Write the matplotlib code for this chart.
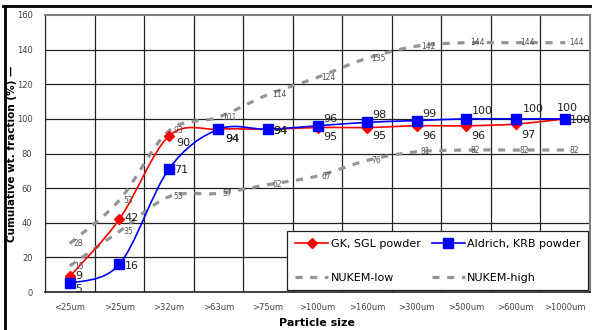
import numpy as np
import matplotlib
matplotlib.use("Agg")
import matplotlib.pyplot as plt
from matplotlib.path import Path
from matplotlib.patches import PathPatch
from matplotlib.lines import Line2D

# =========================================
# DATA
# =========================================
sizes = ['<25um', '>25um', '>32um', '>63um', '>75um', '>100um',
         '>160um', '>300um', '>500um', '>600um', '>1000um']
gk_sgl = [9, 42, 90, 94, 94, 95, 95, 96, 96, 97, 100]
aldrich_krb = [5, 16, 71, 94, 94, 96, 98, 99, 100, 100, 100]
nukem_low = [15, 35, 55, 57, 62, 67, 76, 81, 82, 82, 82]
nukem_high = [28, 53, 93, 101, 114, 124, 135, 142, 144, 144, 144]

# label offsets in points (dx, dy) for the two powders
gk_off = [(4, 0), (4, 1), (5, -5), (5, -7), (4, -1), (4, -7),
          (4, -6), (4, -7), (4, -7), (4, -8), (3, -1)]
al_off = [(4, -4), (4, -1), (4, -1), (5, -7), (4, -1), (4, 5),
          (4, 5), (4, 5), (4, 6), (5, 7), (-6, 8)]


def smooth_path(x, y):
    # excel-like smoothed line: cubic bezier between consecutive points
    pts = np.column_stack([x, y]).astype(float)
    n = len(pts)
    verts = [pts[0]]
    codes = [Path.MOVETO]
    for i in range(n - 1):
        p0 = pts[i - 1] if i > 0 else pts[i]
        p3 = pts[i + 2] if i + 2 < n else pts[i + 1]
        c1 = pts[i] + (pts[i + 1] - p0) / 6.0
        c2 = pts[i + 1] - (p3 - pts[i]) / 6.0
        verts += [c1, c2, pts[i + 1]]
        codes += [Path.CURVE4] * 3
    return Path(verts, codes)


x = np.arange(len(sizes))

fig = plt.figure(figsize=(5.92, 3.30), dpi=100)
ax = fig.add_axes([45 / 592, 1 - 292 / 330, 545 / 592, 277 / 330])

gray = '#959595'
dash = (0, (2.2, 2.4))
# NUKEM bands
for vals in (nukem_low, nukem_high):
    ax.add_patch(PathPatch(smooth_path(x, vals), fill=False, edgecolor=gray,
                           lw=2.3, linestyle=dash, zorder=3))
    for xi, v in zip(x, vals):
        ax.annotate(str(v), (xi, v), xytext=(3, 0), textcoords='offset points',
                    fontsize=5.5, color='#555555', va='center', ha='left', zorder=7)

# powders
ax.add_patch(PathPatch(smooth_path(x, gk_sgl), fill=False, edgecolor='red',
                       lw=1.2, zorder=5))
ax.plot(x, gk_sgl, linestyle='none', marker='D', ms=5, color='red', zorder=6)
ax.add_patch(PathPatch(smooth_path(x, aldrich_krb), fill=False, edgecolor='blue',
                       lw=1.2, zorder=5))
ax.plot(x, aldrich_krb, linestyle='none', marker='s', ms=6.5, color='blue', zorder=6)

for xi, v, o in zip(x, gk_sgl, gk_off):
    ax.annotate(str(v), (xi, v), xytext=o, textcoords='offset points',
                fontsize=8, color='#222222', va='center', ha='left', zorder=7)
for xi, v, o in zip(x, aldrich_krb, al_off):
    ax.annotate(str(v), (xi, v), xytext=o, textcoords='offset points',
                fontsize=8, color='#222222', va='center', ha='left', zorder=7)

# axes
ax.set_xlim(-0.5, len(sizes) - 0.5)
ax.set_ylim(0, 160)
ax.set_yticks(np.arange(0, 161, 20))
ax.set_xticks(x)
ax.set_xticklabels(sizes)
ax.tick_params(length=0, labelsize=6, labelcolor='#444444')
ax.tick_params(axis='y', pad=9)
ax.tick_params(axis='x', pad=8)
for v in np.arange(-0.5, len(sizes) - 0.5, 1.0):
    ax.axvline(v, color='#222222', lw=0.9, zorder=1)
for v in np.arange(20, 160, 20):
    ax.axhline(v, color='#222222', lw=0.9, zorder=1)
for s in ['top', 'right']:
    ax.spines[s].set_color('#808080')
    ax.spines[s].set_linewidth(1.5)
ax.spines['left'].set_color('#222222')
ax.spines['bottom'].set_color('#222222')
ax.spines['bottom'].set_linewidth(1.2)

# legend filled column-wise -> order gives rows (GK, Aldrich) / (low, high)
handles = [
    Line2D([], [], color='red', lw=1.2, marker='D', ms=5),
    Line2D([], [], color=gray, lw=2.3, linestyle=dash),
    Line2D([], [], color='blue', lw=1.2, marker='s', ms=6.5),
    Line2D([], [], color=gray, lw=2.3, linestyle=dash),
]
labels = ['GK, SGL powder', 'NUKEM-low', 'Aldrich, KRB powder', 'NUKEM-high']
leg = ax.legend(handles, labels, ncol=2, loc='lower right',
                bbox_to_anchor=(1.0, 0.0), fontsize=8, frameon=True,
                fancybox=False, edgecolor='#222222', framealpha=1,
                handlelength=3.0, handletextpad=0.2, columnspacing=1.0,
                labelspacing=2.1, borderpad=0.7, borderaxespad=0.15)
leg.get_frame().set_linewidth(0.9)
leg.set_zorder(10)

ax.set_ylabel('Cumulative wt. fraction (%) \u2014', fontsize=7.5, fontweight='bold')
ax.yaxis.set_label_coords(-0.052, 0.5)
fig.text(317 / 592, 1 - 323 / 330, 'Particle size', fontsize=8,
         fontweight='bold', ha='center', va='center')

# outer frame lines
fig.add_artist(Line2D([3 / 592, 1], [1 - 6 / 330, 1 - 6 / 330],
                      transform=fig.transFigure, color='black', lw=2))
fig.add_artist(Line2D([5 / 592, 5 / 592], [1 - 6 / 330, 0],
                      transform=fig.transFigure, color='black', lw=2))

fig.savefig('out.png', dpi=100)
